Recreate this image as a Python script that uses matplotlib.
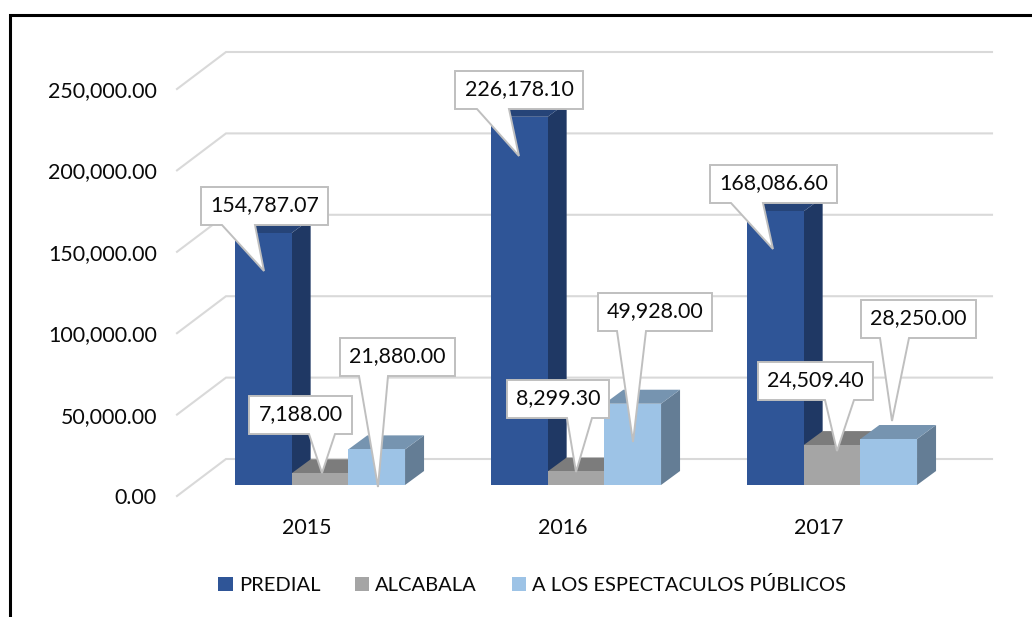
"""3D-looking clustered column chart with callout labels, drawn on flat axes."""

import matplotlib

matplotlib.use("Agg")
import matplotlib.pyplot as plt
from matplotlib.lines import Line2D
from matplotlib.patches import Polygon
from matplotlib.transforms import Affine2D

years = ["2015", "2016", "2017"]
series_names = ["PREDIAL", "ALCABALA", "A LOS ESPECTACULOS PÚBLICOS"]
predial = [154787.07, 226178.10, 168086.60]
alcabala = [7188.00, 8299.30, 24509.40]
espectaculos = [21880.00, 49928.00, 28250.00]
y_ticks = [0, 50000, 100000, 150000, 200000, 250000]

# front, top, side
PALETTE = [
    ("#2F5597", "#264478", "#1F3864"),
    ("#A5A5A5", "#7C7C7C", "#646464"),
    ("#9DC3E6", "#7694B0", "#647D95"),
]

W, H = 1032, 617
PX_PER_GROUP = 256.0
PX_PER_UNIT = 407.0 / 250000
AX_LEFT, AX_RIGHT, AX_BOTTOM = 177, 992, 496
Y_MAX = 280000
GROUP_0_PX = 320.0

BAR_W = 56.7 / PX_PER_GROUP
DEPTH_X = 19 / PX_PER_GROUP
DEPTH_Y = 14 / PX_PER_UNIT
FLOOR = 11 / PX_PER_UNIT
GRID_DX = 49 / PX_PER_GROUP
GRID_RISE = 37 / PX_PER_UNIT
TICK_SHIFT = 13.5 / PX_PER_GROUP

plt.rcParams["font.family"] = ["Lato", "DejaVu Sans"]
TEXT_SIZE = 15.4
TEXT_COLOR = "#0A0A0A"

fig = plt.figure(figsize=(W / 100, H / 100), dpi=100)
ax_top = AX_BOTTOM - Y_MAX * PX_PER_UNIT
ax = fig.add_axes([AX_LEFT / W, 1 - AX_BOTTOM / H, (AX_RIGHT - AX_LEFT) / W, (AX_BOTTOM - ax_top) / H])
ax.set_xlim((AX_LEFT - GROUP_0_PX) / PX_PER_GROUP, (AX_RIGHT - GROUP_0_PX) / PX_PER_GROUP)
ax.set_ylim(0, Y_MAX)
ax.patch.set_visible(False)
for spine in ax.spines.values():
    spine.set_visible(False)

x_lo, x_hi = ax.get_xlim()
for tick in y_ticks:
    ax.plot(
        [x_lo, x_lo + GRID_DX, x_hi],
        [tick, tick + GRID_RISE, tick + GRID_RISE],
        color="#D9D9D9",
        lw=1.5,
        clip_on=False,
        zorder=1,
        solid_joinstyle="miter",
    )

legend_handles = []
for s, (values, name) in enumerate(zip([predial, alcabala, espectaculos], series_names)):
    front, top, side = PALETTE[s]
    offset = (s - 1) * BAR_W
    centers = [g + offset for g in range(len(years))]
    for x, v in zip(centers, values):
        x0, x1 = x - BAR_W / 2, x + BAR_W / 2
        y1 = FLOOR + v
        ax.add_patch(Polygon(
            [(x1, FLOOR), (x1 + DEPTH_X, FLOOR + DEPTH_Y), (x1 + DEPTH_X, y1 + DEPTH_Y), (x1, y1)],
            closed=True, facecolor=side, edgecolor="none", zorder=2 + s, clip_on=False,
        ))
        ax.add_patch(Polygon(
            [(x0, y1), (x1, y1), (x1 + DEPTH_X, y1 + DEPTH_Y), (x0 + DEPTH_X, y1 + DEPTH_Y)],
            closed=True, facecolor=top, edgecolor="none", zorder=2 + s, clip_on=False,
        ))
    bars = ax.bar(centers, values, width=BAR_W, bottom=FLOOR, color=front, label=name, zorder=2 + s, clip_on=False)
    legend_handles.append(bars)

ax.set_xticks([g - TICK_SHIFT for g in range(len(years))], years)
ax.set_yticks(y_ticks, [f"{t:,.2f}" for t in y_ticks])
ax.tick_params(axis="x", length=0, pad=15.5, labelsize=TEXT_SIZE, labelcolor=TEXT_COLOR)
ax.tick_params(axis="y", length=0, pad=14.5, labelsize=TEXT_SIZE, labelcolor=TEXT_COLOR)

ax.legend(
    handles=legend_handles,
    labels=series_names,
    ncol=3,
    loc="center left",
    bbox_to_anchor=(200 / W, 1 - 585 / H),
    bbox_transform=fig.transFigure,
    frameon=False,
    fontsize=TEXT_SIZE - 0.9,
    handlelength=0.72,
    handleheight=0.72,
    handletextpad=0.3,
    columnspacing=1.72,
    labelcolor=TEXT_COLOR,
)

# callouts are placed in picture pixels, y going down
px = Affine2D().scale(1 / W, -1 / H).translate(0, 1) + fig.transFigure

# box left, right, top, bottom; tail base left, right; tip x, y
callouts = [
    (predial[0], (201, 328, 187, 225), (222, 255), (264, 271)),
    (predial[1], (455, 583, 71, 109), (477, 509), (519, 156)),
    (predial[2], (710, 837, 165, 203), (731, 763), (773, 249)),
    (alcabala[0], (249, 352, 396, 434), (309, 335), (322, 473)),
    (alcabala[1], (507, 609, 380, 418), (567, 592), (576, 472)),
    (alcabala[2], (758, 873, 362, 400), (825, 854), (837, 451)),
    (espectaculos[0], (340, 455, 338, 376), (359, 388), (378, 487)),
    (espectaculos[1], (598, 712, 293, 331), (617, 646), (633, 442)),
    (espectaculos[2], (861, 976, 300, 338), (880, 909), (892, 421)),
]
for value, (l, r, t, b), (tail_l, tail_r), tip in callouts:
    outline = [(l, t), (r, t), (r, b), (tail_r, b), tip, (tail_l, b), (l, b)]
    fig.add_artist(Polygon(
        outline, closed=True, transform=px, facecolor="white", edgecolor="#BFBFBF", linewidth=1.4,
        joinstyle="miter", zorder=10,
    ))
    fig.text((l + r) / 2 / W, 1 - ((t + b) / 2 - 0.5) / H, f"{value:,.2f}", ha="center", va="center",
             fontsize=TEXT_SIZE, color=TEXT_COLOR, zorder=11)

fig.add_artist(Line2D([10, 10, W], [H, 15, 15], transform=px, color="black", lw=2.2, solid_joinstyle="miter", zorder=12))

fig.savefig("out.png", dpi=100)
